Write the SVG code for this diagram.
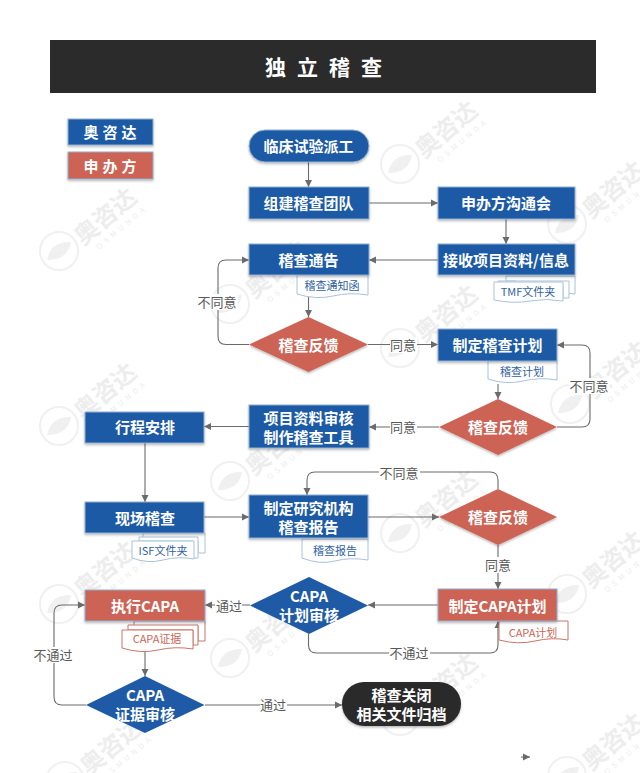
<svg xmlns="http://www.w3.org/2000/svg" xmlns:xlink="http://www.w3.org/1999/xlink" width="640" height="773" viewBox="0 0 640 773">
<style>
text{font-family:"Noto Sans CJK SC","Liberation Sans",sans-serif;text-anchor:middle;dominant-baseline:central;transform:translateY(-1px)}
.n{font-size:15px;font-weight:700;fill:#fff}
.s{stroke:#8fb0d0;stroke-width:1;filter:url(#sh)}
.b{fill:#1f5aa6}
.r{fill:#cd6355}
.d{fill:#fff;stroke:#a9c2d9;stroke-width:1}
.dr{fill:#fff;stroke:#c9756a;stroke-width:1}
.dt{font-size:11px;fill:#2f5f9f}
.drt{font-size:11px;fill:#c9665a}
.c{fill:none;stroke:#6b6b6b;stroke-width:1.1;marker-end:url(#a)}
.l{font-size:13px;fill:#595959}
.lb{fill:#fff}
.wt{font-size:24px;font-weight:700;fill:#ededed;transform:none}
.wo{font-size:7.500px;letter-spacing:4px;fill:#ededed;transform:none}
</style>
<defs>
<filter id="sh" x="-5%" y="-5%" width="110%" height="120%"><feDropShadow dx="0" dy="1.500" stdDeviation="0.800" flood-color="#000" flood-opacity="0.280"/></filter>
<marker id="a" markerUnits="userSpaceOnUse" markerWidth="8" markerHeight="8" refX="7" refY="4" orient="auto"><path d="M0,0.500 L7,4 L0,7.500 Z" fill="#6b6b6b"/></marker>
<g id="wm">
<circle cx="-45" cy="36" r="19" fill="none" stroke="#f0f0f0" stroke-width="2"/>
<path d="M-57,45 Q-53,26 -33,27 Q-36,45 -57,45 Z" fill="#f0f0f0"/>
<g transform="rotate(-40)"><text class="wt" x="0" y="0">奥咨达</text><text class="wo" x="6" y="20">OSMUNDA</text></g>
</g>
</defs>
<rect width="640" height="773" fill="#fff"/>
<g id="watermarks">
<use xlink:href="#wm" href="#wm" x="445" y="128"/>
<use xlink:href="#wm" href="#wm" x="612" y="188"/>
<use xlink:href="#wm" href="#wm" x="104" y="215"/>
<use xlink:href="#wm" href="#wm" x="275" y="268"/>
<use xlink:href="#wm" href="#wm" x="445" y="312"/>
<use xlink:href="#wm" href="#wm" x="615" y="368"/>
<use xlink:href="#wm" href="#wm" x="104" y="390"/>
<use xlink:href="#wm" href="#wm" x="275" y="445"/>
<use xlink:href="#wm" href="#wm" x="445" y="497"/>
<use xlink:href="#wm" href="#wm" x="612" y="558"/>
<use xlink:href="#wm" href="#wm" x="104" y="568"/>
<use xlink:href="#wm" href="#wm" x="275" y="622"/>
<use xlink:href="#wm" href="#wm" x="445" y="680"/>
<use xlink:href="#wm" href="#wm" x="110" y="745"/>
<use xlink:href="#wm" href="#wm" x="612" y="740"/>
</g>
<g id="title"><rect x="50" y="40" width="546" height="53" fill="#2b2b2b"/><text x="329" y="67" font-size="21" font-weight="700" fill="#fff" style="letter-spacing:11px">独立稽查</text></g>
<g id="legend-osmunda"><rect class="b s" x="68" y="119" width="85" height="26"/><text class="n" x="112" y="132" style="letter-spacing:4px">奥咨达</text></g>
<g id="legend-sponsor"><rect class="r s" x="68" y="152" width="85" height="27" stroke="#d89a90"/><text class="n" x="112" y="166" style="letter-spacing:4px">申办方</text></g>

<g id="connectors">
<path class="c" d="M308.500 162V187"/>
<path class="c" d="M369 203H438"/>
<path class="c" d="M506 219V244"/>
<path class="c" d="M438 260H369"/>
<path class="c" d="M308.500 297V317"/>
<path class="c" d="M249 344.500H226Q218 344.500 218 336.500V268Q218 260 226 260H249"/>
<path class="c" d="M368 344.500H438"/>
<path class="c" d="M498 384V399"/>
<path class="c" d="M557 427H582Q590 427 590 419V353Q590 345 582 345H557"/>
<path class="c" d="M439 427H369"/>
<path class="c" d="M249 426.500H204"/>
<path class="c" d="M145 443V502"/>
<path class="c" d="M204 517H249"/>
<path class="c" d="M368 517H439"/>
<path class="c" d="M498 489V480Q498 472 490 472H315Q307 472 307 480V495"/>
<path class="c" d="M498 545V589"/>
<path class="c" d="M438 605H368"/>
<path class="c" d="M308.500 634V645Q308.500 653 316.500 653H490Q498 653 498 645V621"/>
<path class="c" d="M250 605H205"/>
<path class="c" d="M145 650V676"/>
<path class="c" d="M86 705H62Q54 705 54 697V613Q54 605 62 605H85"/>
<path class="c" d="M205 705H342"/>
<path class="c" d="M521 757H530"/>
</g>

<g id="n-start"><rect class="b s" x="249" y="130" width="120" height="32" rx="16"/><text class="n" x="308.500" y="146">临床试验派工</text></g>
<g id="n-team"><rect class="b s" x="249" y="187" width="120" height="32"/><text class="n" x="308.500" y="203">组建稽查团队</text></g>
<g id="n-comm"><rect class="b s" x="438" y="187" width="137" height="32"/><text class="n" x="506" y="203">申办方沟通会</text></g>
<g id="n-receive-docs"><path class="d" d="M506 276H575V294Q570 293 565 294V285H516V281H506Z"/><path class="d" d="M498 281H569V298H563V285H498Z"/></g>
<g id="n-receive"><rect class="b s" x="438" y="244" width="137" height="31"/><text class="n" x="506" y="260">接收项目资料/信息</text><path class="d" d="M494 282H563V301Q546 298 530 301T494 300Z"/><text class="dt" x="528" y="292">TMF文件夹</text></g>
<g id="n-notice"><path class="d" d="M297 275H368V295Q350 292 333 296T297 294Z"/><text class="dt" x="332" y="286">稽查通知函</text><rect class="b s" x="249" y="244" width="120" height="31"/><text class="n" x="308.500" y="260">稽查通告</text></g>
<g id="n-fb1"><path class="r" d="M308.500 317L368 344.500L308.500 372L249 344.500Z" style="filter:url(#sh)"/><text class="n" x="308.500" y="345">稽查反馈</text></g>
<g id="n-plan"><path class="d" d="M488 361H557V380Q540 377 523 381T488 379Z"/><text class="dt" x="522" y="372">稽查计划</text><rect class="b s" x="438" y="329" width="119" height="32"/><text class="n" x="497.500" y="345">制定稽查计划</text></g>
<g id="n-fb2"><path class="r" d="M498 399L557 427L498 455L439 427Z" style="filter:url(#sh)"/><text class="n" x="498" y="427">稽查反馈</text></g>
<g id="n-tools"><rect class="b s" x="249" y="405" width="120" height="43"/><text class="n" x="308.500" y="418">项目资料审核</text><text class="n" x="308.500" y="437">制作稽查工具</text></g>
<g id="n-schedule"><rect class="b s" x="85" y="412" width="119" height="31"/><text class="n" x="145" y="427">行程安排</text></g>
<g id="n-onsite"><path class="d" d="M143 533H205V553H198V541H143Z"/><path class="d" d="M139 537H198V558H193V541H139Z"/><path class="d" d="M132 541H194V559Q178 556 163 560T132 558Z"/><text class="dt" x="163" y="551">ISF文件夹</text><rect class="b s" x="85" y="502" width="119" height="31"/><text class="n" x="145" y="518">现场稽查</text></g>
<g id="n-report"><path class="d" d="M302 539H368V560Q350 557 335 561T302 558Z"/><text class="dt" x="335" y="551">稽查报告</text><rect class="b s" x="249" y="495" width="119" height="43"/><text class="n" x="308.500" y="508">制定研究机构</text><text class="n" x="308.500" y="527">稽查报告</text></g>
<g id="n-fb3"><path class="r" d="M498 489L557 517L498 545L439 517Z" style="filter:url(#sh)"/><text class="n" x="498" y="517">稽查反馈</text></g>
<g id="n-capa-plan"><path class="dr" d="M499 621H568V640Q552 637 535 641T499 640Z"/><text class="drt" x="533" y="633">CAPA计划</text><rect class="r s" x="438" y="589" width="119" height="32" stroke="#d89a90"/><text class="n" x="497.500" y="606">制定CAPA计划</text></g>
<g id="n-capa-review"><path class="b" d="M309 577L368 605.500L309 634L250 605.500Z"/><text class="n" x="309" y="596">CAPA</text><text class="n" x="309" y="615">计划审核</text></g>
<g id="n-capa-exec"><path class="dr" d="M134 621H205V641H198V626H134Z"/><path class="dr" d="M128 625H198V645H193V630H128Z"/><path class="dr" d="M122 630H193V649Q175 646 158 650T122 648Z"/><text class="drt" x="157" y="639">CAPA证据</text><rect class="r s" x="85" y="590" width="120" height="31" stroke="#d89a90"/><text class="n" x="145" y="606">执行CAPA</text></g>
<g id="n-capa-evidence"><path class="b" d="M145 676L204.500 705L145 733L86 705Z"/><text class="n" x="145" y="695">CAPA</text><text class="n" x="145" y="714">证据审核</text></g>
<g id="n-close"><rect x="342" y="682" width="119" height="44" rx="22" fill="#2b2b2b" style="filter:url(#sh)"/><text class="n" x="401.500" y="695">稽查关闭</text><text class="n" x="401.500" y="714">相关文件归档</text></g>

<g id="labels">
<rect class="lb" x="197" y="294" width="41" height="16"/><text class="l" x="217" y="302">不同意</text>
<rect class="lb" x="390" y="337" width="27" height="16"/><text class="l" x="403" y="345">同意</text>
<rect class="lb" x="569" y="378" width="41" height="16"/><text class="l" x="589" y="386">不同意</text>
<rect class="lb" x="390" y="419" width="27" height="16"/><text class="l" x="403" y="427">同意</text>
<rect class="lb" x="379" y="465" width="41" height="16"/><text class="l" x="399" y="473">不同意</text>
<rect class="lb" x="485" y="557" width="27" height="16"/><text class="l" x="498" y="565">同意</text>
<rect class="lb" x="215" y="598" width="27" height="16"/><text class="l" x="229" y="606">通过</text>
<rect class="lb" x="389" y="645" width="41" height="16"/><text class="l" x="409" y="653">不通过</text>
<rect class="lb" x="33" y="647" width="41" height="16"/><text class="l" x="53" y="655">不通过</text>
<rect class="lb" x="260" y="697" width="27" height="16"/><text class="l" x="273" y="705">通过</text>
</g>
</svg>
